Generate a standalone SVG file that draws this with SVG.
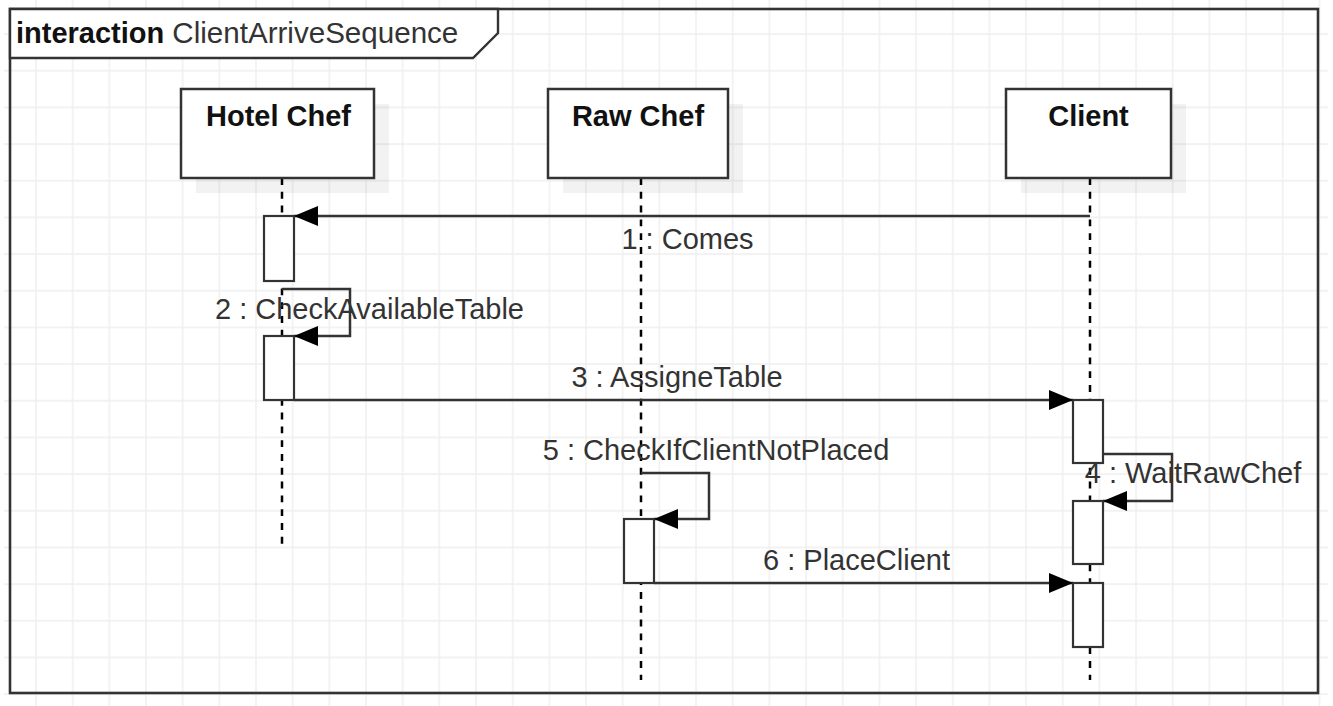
<svg xmlns="http://www.w3.org/2000/svg" width="1333" height="706" viewBox="0 0 1333 706">
  <defs>
    <pattern id="grid" patternUnits="userSpaceOnUse" x="-1.67" y="-3.6" width="36.67" height="36.67">
      <path d="M0,1 H36.67 M1,0 V36.67" stroke="#eeeeee" stroke-width="1.4" fill="none"/>
    </pattern>
    <marker id="arrow" markerUnits="userSpaceOnUse" markerWidth="26" markerHeight="22" refX="24" refY="10" orient="auto" viewBox="0 0 26 22">
      <path d="M0,0 L24,10 L0,20 Z" fill="#000"/>
    </marker>
    <style>
      .txt { font-family: "Liberation Sans", Arial, sans-serif; font-size: 29px; fill: #333; }
      .bold { font-weight: bold; fill: #111; }
      .head { fill: #fff; stroke: #333; stroke-width: 2.5; }
      .shadow { fill: #000; fill-opacity: 0.05; stroke: none; }
      .life { stroke: #000; stroke-width: 2.5; stroke-dasharray: 6.9 6.9; fill: none; }
      .act { fill: #fff; stroke: #333; stroke-width: 2.2; }
      .msg { stroke: #333; stroke-width: 2.5; fill: none; marker-end: url(#arrow); }
    </style>
  </defs>

  <rect x="0" y="0" width="1333" height="706" fill="#fff"/>
  <rect x="4" y="0" width="1324" height="706" fill="url(#grid)"/>

  <g id="frame">
    <rect x="10" y="9" width="1308" height="684" fill="none" stroke="#333" stroke-width="2.6"/>
    <path d="M10,9 H498 V33 L473,58 H10 Z" fill="#fff" stroke="#333" stroke-width="2.4"/>
    <text class="txt" x="16" y="43"><tspan font-weight="bold" fill="#111">interaction</tspan> <tspan textLength="286" lengthAdjust="spacingAndGlyphs">ClientArriveSequence</tspan></text>
  </g>

  <g id="lifelines">
    <line class="life" x1="282" y1="178" x2="282" y2="545"/>
    <line class="life" x1="641" y1="178" x2="641" y2="680"/>
    <line class="life" x1="1090" y1="178" x2="1090" y2="680"/>
  </g>

  <g id="hotel-chef">
    <rect class="shadow" x="196" y="104" width="193" height="89"/>
    <rect class="head" x="181" y="89" width="193" height="89"/>
    <text class="txt bold" x="278.5" y="126" text-anchor="middle">Hotel Chef</text>
  </g>
  <g id="raw-chef">
    <rect class="shadow" x="563" y="104" width="180" height="89"/>
    <rect class="head" x="548" y="89" width="180" height="89"/>
    <text class="txt bold" x="638" y="126" text-anchor="middle">Raw Chef</text>
  </g>
  <g id="client">
    <rect class="shadow" x="1021" y="104" width="165" height="89"/>
    <rect class="head" x="1006" y="89" width="165" height="89"/>
    <text class="txt bold" x="1088.5" y="126" text-anchor="middle">Client</text>
  </g>

  <g id="labels">
    <text class="txt" x="687.5" y="249" text-anchor="middle">1 : Comes</text>
    <text class="txt" x="369.5" y="319" text-anchor="middle">2 : CheckAvailableTable</text>
    <text class="txt" x="677" y="387" text-anchor="middle">3 : AssigneTable</text>
    <text class="txt" x="1193" y="483" text-anchor="middle">4 : WaitRawChef</text>
    <text class="txt" x="716" y="460" text-anchor="middle">5 : CheckIfClientNotPlaced</text>
    <text class="txt" x="856.5" y="570" text-anchor="middle">6 : PlaceClient</text>
  </g>

  <g id="activations">
    <rect id="act-hc-1" class="act" x="264" y="216" width="30" height="65"/>
    <rect id="act-hc-2" class="act" x="264" y="336" width="30" height="64"/>
    <rect id="act-cl-1" class="act" x="1073" y="400" width="30" height="63"/>
    <rect id="act-cl-2" class="act" x="1073" y="501" width="30" height="63"/>
    <rect id="act-cl-3" class="act" x="1073" y="583" width="30" height="64"/>
    <rect id="act-rc-1" class="act" x="624" y="519" width="30" height="64"/>
  </g>

  <g id="connectors">
    <path class="msg" d="M1090,216 H294"/>
    <path class="msg" d="M282,289 H350 V336 H294"/>
    <path class="msg" d="M294,400 H1073"/>
    <path class="msg" d="M1103,454 H1172 V501 H1103"/>
    <path class="msg" d="M641,473 H709 V519 H654"/>
    <path class="msg" d="M654,583 H1073"/>
  </g>
</svg>
